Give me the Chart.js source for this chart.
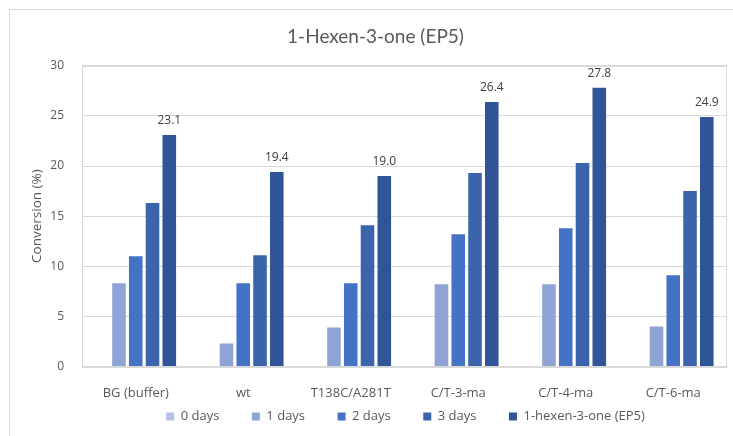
<!DOCTYPE html>
<html>
<head>
<meta charset="utf-8">
<script src="https://cdn.jsdelivr.net/npm/chart.js@4.4.1/dist/chart.umd.min.js"></script>
<style>
  html, body { margin: 0; padding: 0; background: #ffffff; }
  #wrap { width: 733px; height: 436px; position: relative; }
</style>
</head>
<body>
<div id="wrap"><canvas id="c" width="733" height="436"></canvas></div>
<script>
// Samples and time points
const categories = ['BG (buffer)', 'wt', 'T138C/A281T', 'C/T-3-ma', 'C/T-4-ma', 'C/T-6-ma'];
const seriesNames = ['0 days', '1 days', '2 days', '3 days', '1-hexen-3-one (EP5)'];

// Conversion (%) per sample
const day0 = [0, 0, 0, 0, 0, 0];
const day1 = [8.3, 2.3, 3.9, 8.2, 8.2, 4.0];
const day2 = [11.0, 8.3, 8.3, 13.2, 13.8, 9.1];
const day3 = [16.3, 11.1, 14.1, 19.3, 20.3, 17.5];
const ep5 = [23.1, 19.4, 19.0, 26.4, 27.8, 24.9];

const yTicks = [0, 5, 10, 15, 20, 25, 30];

const colors = ['#b4c2e6', '#8fa3d4', '#4472c4', '#3b64ad', '#2f5597'];
const seriesValues = [day0, day1, day2, day3, ep5];

const textGrey = '#595959';
const lineGrey = '#d9d9d9';
const fontFamily = "'Open Sans', 'DejaVu Sans', sans-serif";

// Outer frame, plot-area box and value labels on the EP5 series
const decorations = {
  id: 'decorations',
  beforeDraw(chart) {
    const ctx = chart.ctx;
    ctx.save();
    ctx.fillStyle = '#ffffff';
    ctx.fillRect(0, 0, chart.width, chart.height);
    ctx.strokeStyle = lineGrey;
    ctx.lineWidth = 1;
    ctx.beginPath();
    ctx.moveTo(9.5, chart.height + 2);
    ctx.lineTo(9.5, 9.5);
    ctx.lineTo(chart.width + 2, 9.5);
    ctx.stroke();
    ctx.restore();
  },
  afterDatasetsDraw(chart) {
    const ctx = chart.ctx;
    const a = chart.chartArea;
    ctx.save();
    ctx.strokeStyle = lineGrey;
    ctx.lineWidth = 1;
    ctx.strokeRect(Math.round(a.left) + 0.5, Math.round(a.top) + 0.5,
                   Math.round(a.right - a.left) - 1, Math.round(a.bottom - a.top));
    const last = chart.data.datasets.length - 1;
    const meta = chart.getDatasetMeta(last);
    ctx.fillStyle = '#404040';
    ctx.font = "12px " + fontFamily;
    ctx.textAlign = 'center';
    ctx.textBaseline = 'bottom';
    meta.data.forEach((bar, i) => {
      ctx.fillText(chart.data.datasets[last].data[i].toFixed(1), bar.x, bar.y - 8);
    });
    ctx.restore();
  },
  afterLayout(chart) {
    // nudge the legend row and the title into their final places
    const lg = chart.legend;
    if (lg) {
      lg.left += 37; lg.right += 37;
      lg.top -= 29; lg.bottom -= 29;
    }
    const tt = chart.titleBlock;
    if (tt) { tt.left += 7; tt.right += 7; }
  }
};

new Chart(document.getElementById('c'), {
  type: 'bar',
  data: {
    labels: categories,
    datasets: seriesNames.map((name, i) => ({
      label: name,
      data: seriesValues[i],
      backgroundColor: colors[i],
      borderWidth: 0,
      categoryPercentage: 0.78,
      barPercentage: 0.81
    }))
  },
  options: {
    responsive: false,
    devicePixelRatio: 1,
    animation: false,
    layout: { padding: { left: 10, top: 10, right: 6, bottom: -26 } },
    plugins: {
      title: {
        display: true,
        text: '1-Hexen-3-one (EP5)',
        color: textGrey,
        font: { family: "Lato, 'Open Sans', sans-serif", size: 19, weight: 'normal' },
        padding: { top: 15, bottom: 18 }
      },
      legend: {
        position: 'bottom',
        labels: {
          color: textGrey,
          font: { family: fontFamily, size: 13 },
          boxWidth: 8,
          boxHeight: 8,
          padding: 32.5
        }
      },
      tooltip: { enabled: false }
    },
    scales: {
      x: {
        grid: { display: false },
        border: { display: true, color: lineGrey },
        ticks: { color: textGrey, font: { family: fontFamily, size: 13 }, padding: 11, maxRotation: 0 },
        afterFit(scale) { scale.height = 40; }
      },
      y: {
        min: 0,
        max: 30,
        afterBuildTicks(scale) { scale.ticks = yTicks.map(v => ({ value: v })); },
        grid: { color: lineGrey, drawTicks: false },
        border: { display: true, color: lineGrey },
        ticks: { color: textGrey, font: { family: fontFamily, size: 12 }, padding: 18 },
        title: {
          display: true,
          text: 'Conversion (%)',
          color: textGrey,
          font: { family: fontFamily, size: 13.5 },
          padding: { top: 19, bottom: 0 }
        },
        afterFit(scale) { scale.width = 72; }
      }
    }
  },
  plugins: [decorations]
});
</script>
</body>
</html>
